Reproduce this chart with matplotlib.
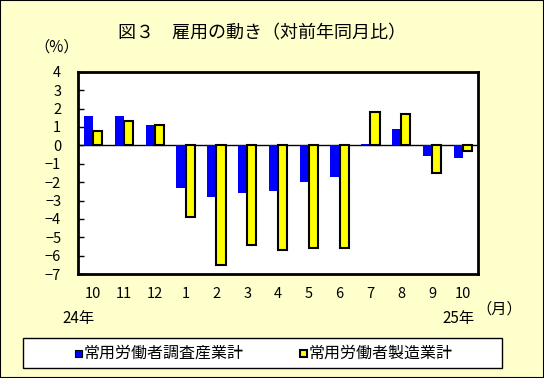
import numpy as np
import matplotlib
matplotlib.use('Agg')
import matplotlib.pyplot as plt
from matplotlib.patches import Rectangle

plt.rcParams['font.family'] = ['Noto Sans CJK JP', 'DejaVu Sans']

months = ['10', '11', '12', '1', '2', '3', '4', '5', '6', '7', '8', '9', '10']
allIndustries = [1.6, 1.6, 1.1, -2.3, -2.8, -2.6, -2.5, -2.0, -1.7, 0.1, 0.9, -0.6, -0.7]
manufacturing = [0.8, 1.3, 1.1, -3.9, -6.5, -5.4, -5.7, -5.6, -5.6, 1.8, 1.7, -1.5, -0.3]
yTicks = [4, 3, 2, 1, 0, -1, -2, -3, -4, -5, -6, -7]

bg = '#ffffcc'
fig = plt.figure(figsize=(5.44, 3.78), dpi=100, facecolor=bg)
fig.patches.append(Rectangle((0, 0), 1, 1, transform=fig.transFigure, fill=False,
                             edgecolor='black', linewidth=1.5))

ax = fig.add_axes([0.143, 0.275, 0.736, 0.535])
x = np.arange(len(months))
w = 0.3
ax.bar(x - w / 2, allIndustries, w, color='#0000ff', edgecolor='none', zorder=2)
ax.bar(x + w / 2, manufacturing, w, color='#ffff00', edgecolor='black', linewidth=1.5, zorder=3)
ax.axhline(0, color='black', linewidth=1, zorder=1)

ax.set_xlim(-0.5, len(months) - 0.5)
ax.set_ylim(-7, 4)
ax.set_yticks(yTicks)
ax.set_yticklabels([str(v).replace('-', '−') for v in yTicks], fontsize=10.5)
ax.tick_params(axis='y', direction='in', length=4, width=1, pad=12)
ax.set_xticks(x)
ax.set_xticklabels(months, fontsize=10.5)
ax.tick_params(axis='x', length=0, pad=9)
for s in ax.spines.values():
    s.set_linewidth(2)

fig.text(0.482, 0.912, '図３　雇用の動き（対前年同月比）', ha='center', va='center', fontsize=13)
fig.text(0.105, 0.875, '（%）', ha='center', va='center', fontsize=11)
fig.text(0.144, 0.158, '24年', ha='center', va='center', fontsize=11)
fig.text(0.843, 0.158, '25年', ha='center', va='center', fontsize=11)
fig.text(0.918, 0.182, '（月）', ha='center', va='center', fontsize=11)

# legend box
fig.patches.append(Rectangle((0.042, 0.027), 0.880, 0.080, transform=fig.transFigure,
                             facecolor='white', edgecolor='black', linewidth=1))
fig.patches.append(Rectangle((0.137, 0.055), 0.013, 0.020, transform=fig.transFigure,
                             facecolor='#0000ff', edgecolor='black', linewidth=0.8))
fig.text(0.154, 0.066, '常用労働者調査産業計', ha='left', va='center', fontsize=11.5)
fig.patches.append(Rectangle((0.551, 0.055), 0.013, 0.020, transform=fig.transFigure,
                             facecolor='#ffff00', edgecolor='black', linewidth=1.5))
fig.text(0.567, 0.066, '常用労働者製造業計', ha='left', va='center', fontsize=11.5)

fig.savefig('out.png', dpi=100, facecolor=bg)
